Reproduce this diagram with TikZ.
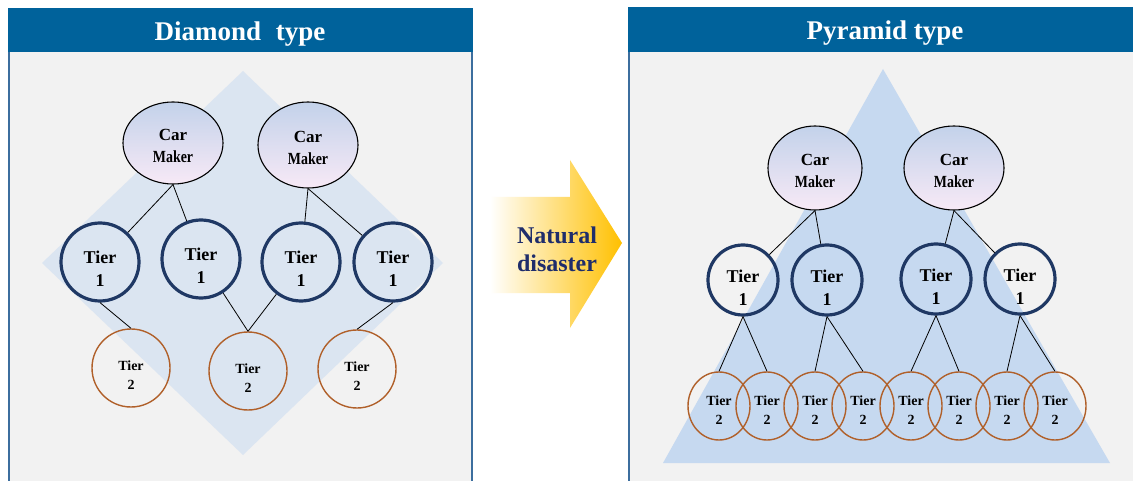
\documentclass[tikz,border=0pt]{standalone}
\usepackage{fontspec}
\setmainfont{Liberation Serif}
\usepackage{graphicx}
\usetikzlibrary{shapes.geometric}
\definecolor{hdr}{HTML}{00629B}
\definecolor{pborder}{HTML}{3C6E9E}
\definecolor{panelbg}{HTML}{F2F2F2}
\definecolor{diam}{HTML}{DBE5F1}
\definecolor{pyr}{HTML}{C6D9F0}
\definecolor{cmtop}{HTML}{C3D2EA}
\definecolor{cmbot}{HTML}{F7E9F6}
\definecolor{tonec}{HTML}{1F3864}
\definecolor{ttwoc}{HTML}{B0602A}
\definecolor{gold}{HTML}{FFC000}
\definecolor{navy}{HTML}{1F2D6B}
\newcommand{\mkword}{\scalebox{0.82}[1]{Maker}}
\begin{document}
\begin{tikzpicture}[x=1pt,y=-1pt,
 carmaker/.style={ellipse,draw=black,line width=1.1pt,top color=cmtop,bottom color=cmbot,inner sep=0pt,align=center,text height=39.5pt,font=\bfseries\fontsize{17}{22}\selectfont},
 tierone/.style={circle,draw=tonec,line width=3.2pt,minimum size=78pt,inner sep=0pt,align=center,text height=49.5pt,font=\bfseries\fontsize{18}{23}\selectfont},
 tieronep/.style={tierone,minimum size=70pt,text height=51.5pt},
 tiertwo/.style={circle,draw=ttwoc,line width=1.4pt,minimum size=78pt,inner sep=0pt,align=center,text height=43.5pt,font=\bfseries\fontsize{14}{19}\selectfont},
 tiertwop/.style={ellipse,draw=ttwoc,line width=1.4pt,minimum width=62pt,minimum height=68pt,inner sep=0pt,align=center,text height=37.5pt,font=\bfseries\fontsize{14}{19}\selectfont},
 linkline/.style={draw=black,line width=0.8pt},
 hdrtext/.style={text=white,anchor=base,font=\bfseries\fontsize{27}{30}\selectfont}]
\useasboundingbox (0,0) rectangle (1133,481);
\fill[white] (0,0) rectangle (1133,481);

% ---------- left panel ----------
\fill[panelbg] (8,52) rectangle (473,481);
\draw[pborder,line width=1.5pt] (9,52) -- (9,481);
\draw[pborder,line width=1.5pt] (472,52) -- (472,481);
\fill[hdr] (8,8) rectangle (473,52);
\node[hdrtext] (hl) at (240,41) {Diamond\hspace{0.3em} type};

\fill[diam] (243,71) -- (443,263) -- (243,455) -- (42,263) -- cycle;

\node[carmaker,minimum width=100pt,minimum height=82pt] (lcm1) at (173,143) {Car\\\mkword};
\node[carmaker,minimum width=100pt,minimum height=86pt] (lcm2) at (308,145) {Car\\\mkword};

\node[tierone] (lt1) at (100,262) {Tier\\1};
\node[tierone] (lt2) at (201,259) {Tier\\1};
\node[tierone] (lt3) at (301,262) {Tier\\1};
\node[tierone] (lt4) at (393,262) {Tier\\1};

\node[tiertwo] (ls1) at (131,368) {Tier\\2};
\node[tiertwo] (ls2) at (248,371) {Tier\\2};
\node[tiertwo] (ls3) at (357,369) {Tier\\2};

\draw[linkline] (lcm1.south) -- (lt1);
\draw[linkline] (lcm1.south) -- (lt2);
\draw[linkline] (lcm2.south) -- (lt3);
\draw[linkline] (lcm2.south) -- (lt4);
\draw[linkline] (lt1.south) -- (ls1.north);
\draw[linkline] (lt2) -- (ls2.north);
\draw[linkline] (lt3) -- (ls2.north);
\draw[linkline] (lt4.south) -- (ls3.north);

% ---------- arrow ----------
\shade[left color=white,right color=gold]
  (490,197) -- (570,197) -- (570,160) -- (622,243) -- (570,328) -- (570,293) -- (490,293) -- cycle;
\node[text=navy,align=center,font=\bfseries\fontsize{24}{28}\selectfont] (nd) at (557,249) {Natural\\disaster};

% ---------- right panel ----------
\fill[panelbg] (628,52) rectangle (1133,481);
\draw[pborder,line width=1.5pt] (629,52) -- (629,481);
\fill[hdr] (628,7) rectangle (1133,52);
\node[hdrtext] (hr) at (885,40) {Pyramid type};

\fill[pyr] (883,69) -- (1110,463) -- (663,463) -- cycle;

\node[carmaker,minimum width=94pt,minimum height=84pt] (rcm1) at (815,168) {Car\\\mkword};
\node[carmaker,minimum width=100pt,minimum height=84pt] (rcm2) at (954,168) {Car\\\mkword};

\node[tieronep] (rt1) at (743,280) {Tier\\1};
\node[tieronep] (rt2) at (827,280) {Tier\\1};
\node[tieronep] (rt3) at (936,279) {Tier\\1};
\node[tieronep] (rt4) at (1020,279) {Tier\\1};

\foreach \i/\x in {1/719,2/767,3/815,4/863,5/911,6/959,7/1007,8/1055}
  \node[tiertwop] (rs\i) at (\x,406) {Tier\\2};

\draw[linkline] (rcm1.south) -- (rt1);
\draw[linkline] (rcm1.south) -- (rt2);
\draw[linkline] (rcm2.south) -- (rt3);
\draw[linkline] (rcm2.south) -- (rt4);
\draw[linkline] (rt1.south) -- (rs1.north);
\draw[linkline] (rt1.south) -- (rs2.north);
\draw[linkline] (rt2.south) -- (rs3.north);
\draw[linkline] (rt2.south) -- (rs4.north);
\draw[linkline] (rt3.south) -- (rs5.north);
\draw[linkline] (rt3.south) -- (rs6.north);
\draw[linkline] (rt4.south) -- (rs7.north);
\draw[linkline] (rt4.south) -- (rs8.north);
\end{tikzpicture}
\end{document}
